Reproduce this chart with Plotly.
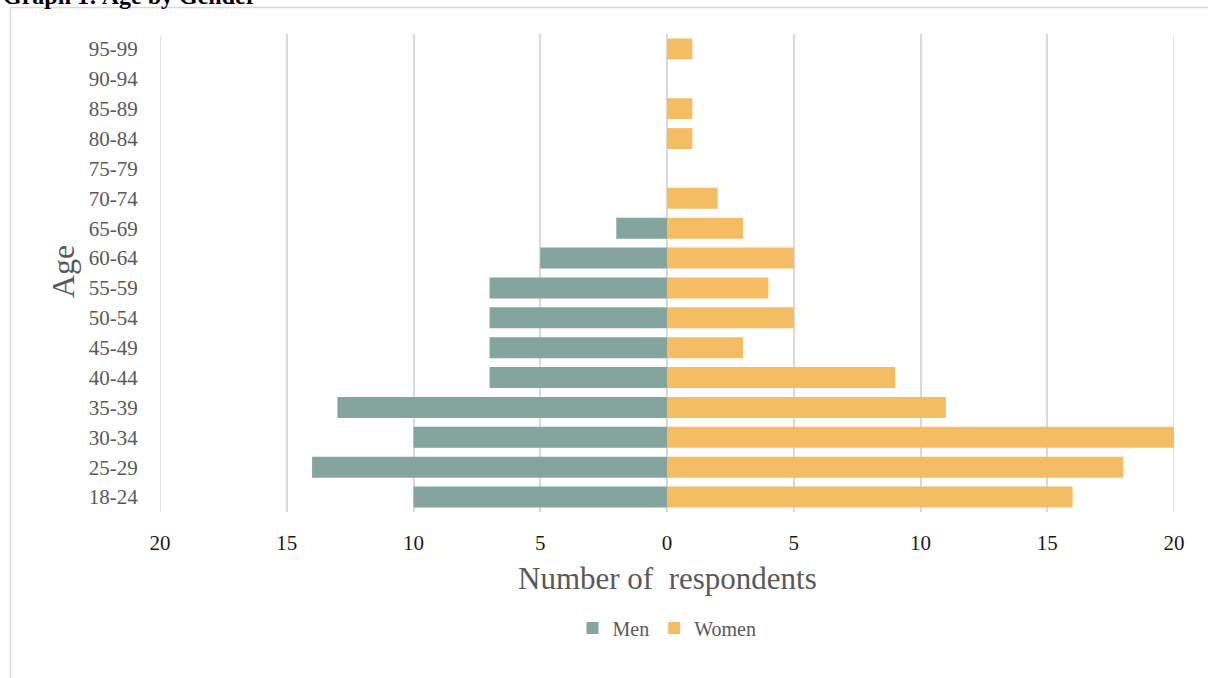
import plotly.graph_objects as go

ages = ["18-24", "25-29", "30-34", "35-39", "40-44", "45-49", "50-54", "55-59",
        "60-64", "65-69", "70-74", "75-79", "80-84", "85-89", "90-94", "95-99"]
men = [10, 14, 10, 13, 7, 7, 7, 7, 5, 2, 0, 0, 0, 0, 0, 0]
women = [16, 18, 20, 11, 9, 3, 5, 4, 5, 3, 2, 0, 1, 1, 0, 1]
tick_vals = [-20, -15, -10, -5, 0, 5, 10, 15, 20]
tick_text = ["20", "15", "10", "5", "0", "5", "10", "15", "20"]

FONT = "Liberation Serif"
GREY = "#595959"

fig = go.Figure()
fig.add_trace(go.Bar(y=ages, x=[-v for v in men], orientation="h", name="Men",
                     marker=dict(color="#84A59D", line=dict(width=0)),
                     customdata=men, hovertemplate="%{y}: %{customdata}<extra>Men</extra>"))
fig.add_trace(go.Bar(y=ages, x=women, orientation="h", name="Women",
                     marker=dict(color="#F4BC63", line=dict(width=0)),
                     hovertemplate="%{y}: %{x}<extra>Women</extra>"))

W, H = 1208, 678
L, R, T, B = 160, 34, 34, 166
pw, ph = W - L - R, H - T - B

def px(x):
    return (x - L) / pw

def py(y):
    return (H - B - y) / ph

edge_lines = [dict(type="line", xref="x", yref="paper", x0=v, x1=v, y0=0, y1=py(36),
                   line=dict(color="#D9D9D9", width=1.5), layer="below")
              for v in (tick_vals[0], tick_vals[-1])]

fig.update_layout(
    width=W, height=H,
    margin=dict(l=L, r=R, t=T, b=B),
    paper_bgcolor="white", plot_bgcolor="white",
    barmode="relative", bargap=0.3,
    font=dict(family=FONT, color=GREY),
    showlegend=True,
    legend=dict(orientation="h", x=0.5, xanchor="center", y=py(628), yanchor="middle",
                font=dict(family=FONT, size=20, color=GREY), traceorder="normal",
                itemwidth=30),
    xaxis=dict(range=[-20, 20], tickvals=tick_vals, ticktext=tick_text,
               showgrid=True, gridcolor="#D9D9D9", gridwidth=1.5,
               zeroline=True, zerolinecolor="#D9D9D9", zerolinewidth=1.5,
               showline=False, ticks="outside", ticklen=12, tickcolor="rgba(0,0,0,0)",
               tickfont=dict(family=FONT, size=21, color="#1a1a1a"), fixedrange=True),
    yaxis=dict(categoryorder="array", categoryarray=ages, showgrid=False,
               showline=False, ticks="outside", ticklen=17, tickcolor="rgba(0,0,0,0)",
               tickfont=dict(family=FONT, size=21, color=GREY), fixedrange=True),
    shapes=[dict(type="rect", xref="paper", yref="paper",
                 x0=px(10.5), x1=px(1300), y0=py(700), y1=py(7.5),
                 line=dict(color="#D9D9D9", width=1.5), fillcolor="rgba(0,0,0,0)",
                 layer="below")] + edge_lines,
    annotations=[
        dict(text="<b>Graph 1: Age by Gender</b>", xref="paper", yref="paper",
             x=px(1), y=py(-4), xanchor="left", yanchor="middle", showarrow=False,
             font=dict(family=FONT, size=24, color="black")),
        dict(text="Age", xref="paper", yref="paper", x=px(63), y=py(272),
             textangle=-90, xanchor="center", yanchor="middle", showarrow=False,
             font=dict(family=FONT, size=32, color=GREY)),
        dict(text="Number of  respondents", xref="paper", yref="paper", x=px(667), y=py(578),
             xanchor="center", yanchor="middle", showarrow=False,
             font=dict(family=FONT, size=31, color=GREY)),
    ],
)

fig.write_html("out.html")
